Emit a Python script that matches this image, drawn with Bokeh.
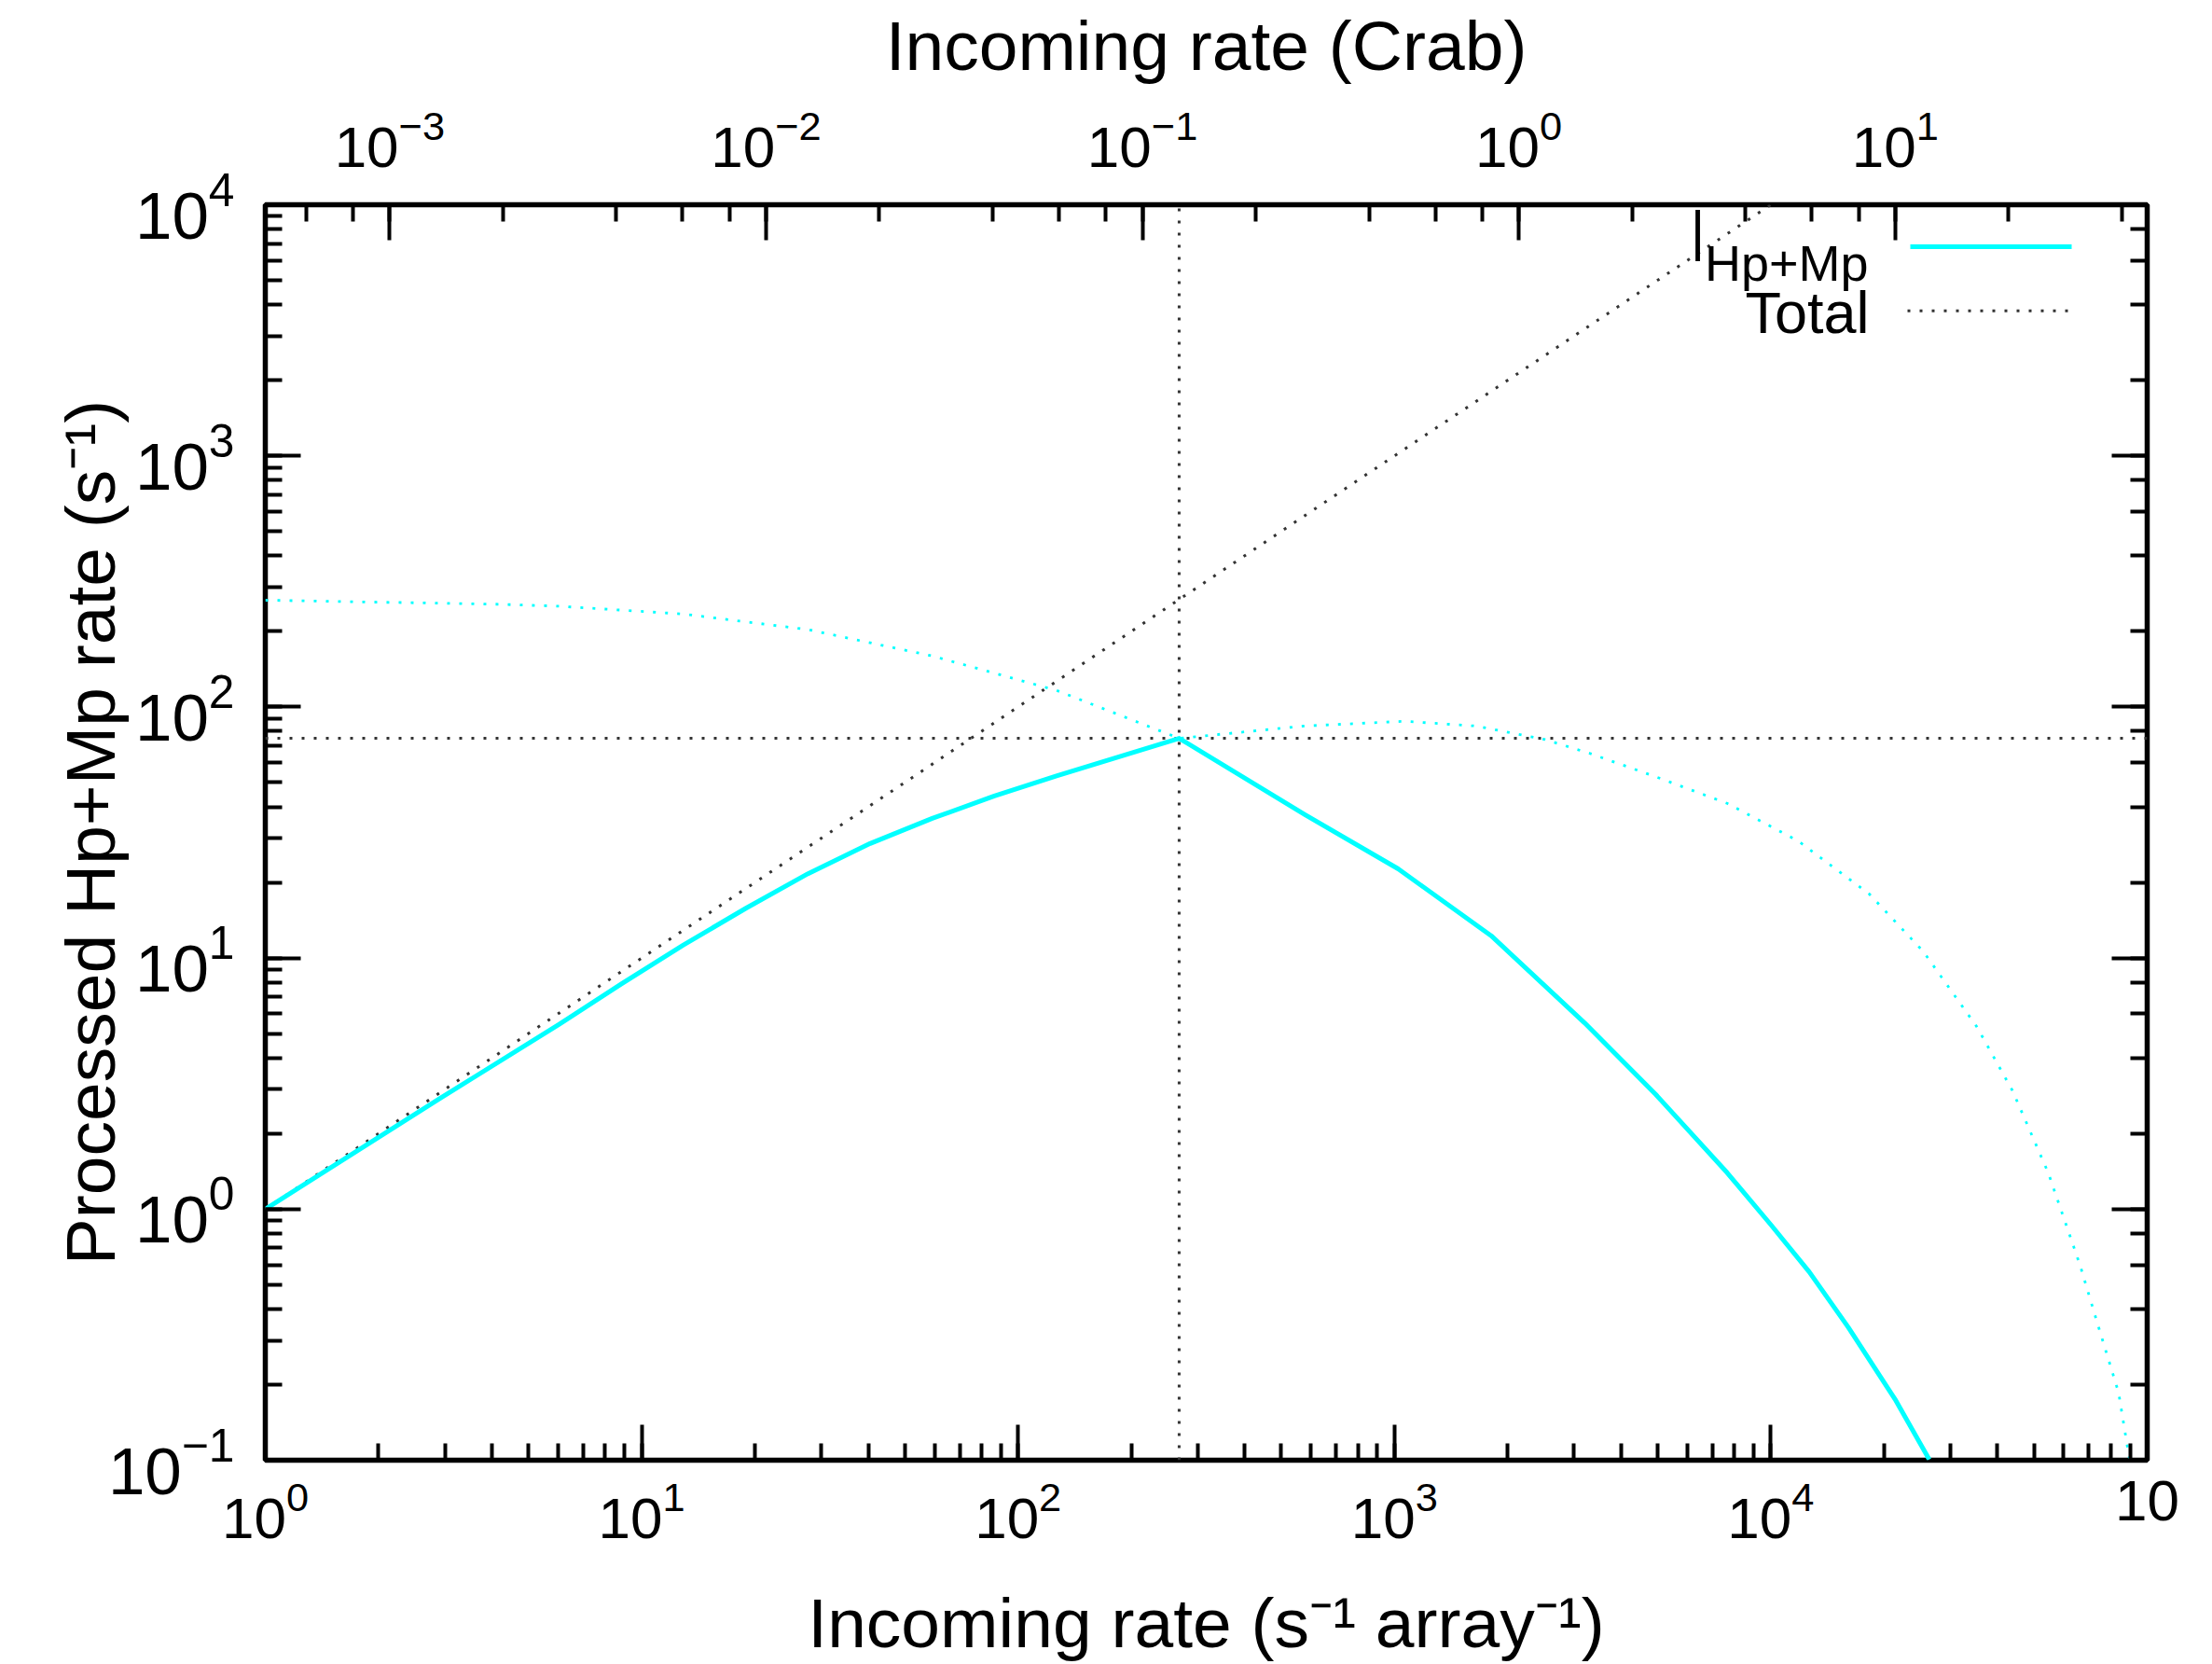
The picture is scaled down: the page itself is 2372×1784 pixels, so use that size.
from bokeh.plotting import figure
from bokeh.models import Range1d, LogAxis, LogScale, CustomJSTickFormatter
from bokeh.core.properties import value
from bokeh.embed import file_html
from bokeh.resources import INLINE

# ---------------- data ----------------
# Processed Hp+Mp rate (solid cyan, key "Hp+Mp")
hp_mp_x = [1.0, 2.904, 6.039, 8.831, 12.91, 18.92, 27.67, 40.46, 59.16,
           86.50, 126.5, 267.9, 578.1, 1023, 1807, 3199, 4943, 7656,
           10000, 12650, 16070, 21380, 26360]
hp_mp_y = [1.0, 2.754, 5.445, 7.889, 11.27, 15.78, 21.68, 28.58, 35.97,
           44.16, 53.09, 74.99, 37.24, 22.65, 12.27, 5.521, 2.864, 1.396,
           0.867, 0.5623, 0.338, 0.175, 0.1007]

# second (unlabelled) cyan dotted curve
alt_x = [1.0, 4.169, 6.039, 12.91, 27.67, 59.16, 126.5, 267.9, 578.1,
         1062, 1644, 2500, 3304, 4943, 7656, 11830, 18320, 25410, 35240,
         43850, 54580, 66370, 73450, 83950, 89740]
alt_y = [266.1, 256.4, 251.8, 234.4, 203.2, 159.6, 116.4, 74.99, 83.95,
         87.70, 83.95, 74.30, 65.31, 52.72, 41.30, 29.24, 17.91, 10.62,
         5.333, 2.965, 1.396, 0.5957, 0.3581, 0.1858, 0.1007]

# Total (processed = incoming)
total_x = [1, 100000]
total_y = [1, 100000]

# optimum marked by the dotted cross-hair
peak_rate = 267.9
peak_processed = 74.99

# conversion: 1 Crab in s^-1 array^-1 (top axis)
crab_rate = 2140.0

X_RANGE = (1, 1e5)
Y_RANGE = (0.1, 1e4)

FONT = "Liberation Sans"
CYAN = "#00ffff"
DOT = "#333333"

W, H = 2372, 1784
FL, FT, FR, FB = 284, 219, 2302, 1567   # frame edges in picture pixels

# ---------------- figure ----------------
p = figure(width=W, height=H,
           x_axis_type="log", y_axis_type="log",
           x_range=Range1d(*X_RANGE), y_range=Range1d(*Y_RANGE),
           output_backend="svg", toolbar_location=None,
           min_border_left=FL, min_border_right=W - FR,
           min_border_top=FT, min_border_bottom=H - FB)
p.background_fill_color = "white"
p.border_fill_color = "white"
p.outline_line_color = "black"
p.outline_line_width = 5.5
p.xgrid.visible = False
p.ygrid.visible = False

p.extra_x_ranges = {"crab": Range1d(X_RANGE[0] / crab_rate, X_RANGE[1] / crab_rate)}
p.extra_x_scales = {"crab": LogScale()}
top = LogAxis(x_range_name="crab", axis_label="Incoming rate (Crab)")
p.add_layout(top, "above")

right = LogAxis(formatter=CustomJSTickFormatter(code="return ''"))
p.add_layout(right, "right")

bx = p.below[0]
ly = p.left[0]


def style(ax, size):
    ax.axis_line_color = None
    ax.major_tick_in = 38
    ax.major_tick_out = 0
    ax.minor_tick_in = 18
    ax.minor_tick_out = 0
    ax.major_tick_line_width = 4
    ax.minor_tick_line_width = 4
    ax.major_tick_line_color = "black"
    ax.minor_tick_line_color = "black"
    ax.major_label_text_font = FONT
    ax.major_label_text_font_size = size
    ax.major_label_text_color = "black"
    ax.axis_label_text_font = FONT
    ax.axis_label_text_font_size = "75px"
    ax.axis_label_text_font_style = "normal"
    ax.axis_label_text_color = "black"


style(bx, "62px")
style(top, "62px")
style(ly, "71px")
style(right, "62px")

bx.axis_label = "Incoming rate (s\u207b\u00b9 array\u207b\u00b9)"
bx.major_label_standoff = 22
bx.axis_label_standoff = 46
bx.major_label_overrides = {100000: "10"}

ly.axis_label = "Processed Hp+Mp rate (s\u207b\u00b9)"
ly.major_label_standoff = 33
ly.axis_label_standoff = -26

top.major_label_standoff = 41
top.axis_label_standoff = 24

right.major_label_standoff = 0
right.axis_label_standoff = 0

DASH_K = "3 10"
DASH_C = "3 10"

# ---------------- curves ----------------
p.line([peak_rate, peak_rate], list(Y_RANGE), line_color=DOT,
       line_width=3, line_dash=DASH_K)
p.line(list(X_RANGE), [peak_processed, peak_processed], line_color=DOT,
       line_width=3, line_dash=DASH_K)
p.line(total_x, total_y, line_color=DOT, line_width=3, line_dash=DASH_K)
p.line(alt_x, alt_y, line_color=CYAN, line_width=2.8, line_dash=DASH_C)
p.line(hp_mp_x, hp_mp_y, line_color=CYAN, line_width=5, line_join="round")

# ---------------- key (gnuplot style: label left, sample right) ----------------


def dx(px):
    return 10 ** (5 * (px - FL) / (FR - FL))


def dy(py):
    return 10 ** (4 - 5 * (py - FT) / (FB - FT))


p.line([dx(2048), dx(2221)], [dy(264), dy(264)], line_color=CYAN, line_width=5)
p.line([dx(2045), dx(2217)], [dy(333), dy(333)], line_color=DOT,
       line_width=3, line_dash=DASH_K)
p.text(x=[dx(2003)], y=[dy(282)], text=["Hp+Mp"], text_align="right",
       text_baseline="alphabetic", text_font=value(FONT), text_font_size="54px",
       text_color="black")
p.text(x=[dx(2004)], y=[dy(335)], text=["Total"], text_align="right",
       text_baseline="alphabetic", text_font=value(FONT), text_font_size="63px",
       text_color="black")
p.text(x=[dx(1820)], y=[dy(247)], text=["|"], text_align="center",
       text_baseline="alphabetic", text_font=value(FONT), text_font_size="60px",
       text_color="black")

open("out.html", "w").write(file_html(p, INLINE))
